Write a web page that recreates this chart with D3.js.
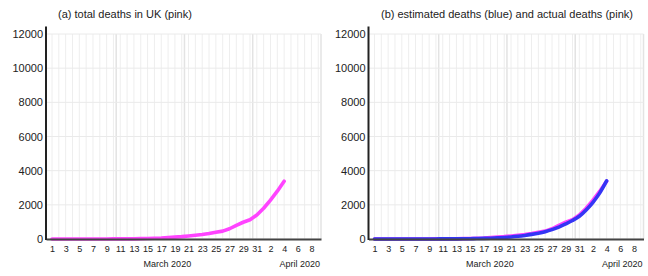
<!DOCTYPE html>
<html>
<head>
<meta charset="utf-8">
<script src="https://cdn.jsdelivr.net/npm/d3@7"></script>
<style>
  body { margin: 0; background: #fff; }
  text { font-family: Arial, "Liberation Sans", sans-serif; fill: #222; }
</style>
</head>
<body>
<svg></svg>
<script>
// day index 0 = 1 March 2020
let days = d3.range(0, 35)

// total deaths in UK (1 Mar .. 4 Apr)
let actualDeaths = [0, 0, 0, 0, 1, 1, 2, 2, 3, 5,
  6, 8, 10, 20, 30, 45, 60, 85, 110, 140,
  180, 220, 260, 320, 390, 460, 600, 800, 980, 1130,
  1400, 1800, 2280, 2800, 3380]

// estimated deaths (blue) in panel (b)
let estimatedDeaths = [0, 0, 1, 1, 1, 2, 2, 3, 3, 4,
  5, 7, 9, 13, 18, 25, 35, 48, 65, 90,
  120, 160, 210, 270, 340, 430, 550, 700, 880, 1080,
  1330, 1700, 2150, 2700, 3400]

let yTicks = [0, 2000, 4000, 6000, 8000, 10000, 12000]
let xTickDays = [0, 2, 4, 6, 8, 10, 12, 14, 16, 18, 20, 22, 24, 26, 28, 30, 32, 34, 36, 38]
let xTickLabels = ["1", "3", "5", "7", "9", "11", "13", "15", "17", "19", "21", "23", "25", "27", "29", "31", "2", "4", "6", "8"]

let width = 648
let height = 276
let panelWidth = 275

let svg = d3.select('svg').attr('width', width).attr('height', height)

let xScale = d3.scaleLinear().domain([-0.88, 39.4]).range([0, panelWidth])
let yScale = d3.scaleLinear().domain([0, 12000]).range([239, 34])

let drawPanel = (left, title, series) => {
  let g = svg.append('g').attr('transform', 'translate(' + left + ',0)')

  // minor vertical grid, one per day
  g.append('g').selectAll('line')
    .data(d3.range(0, 40))
    .join('line')
    .attr('x1', d => xScale(d)).attr('x2', d => xScale(d))
    .attr('y1', yScale(12000)).attr('y2', yScale(0))
    .attr('stroke', '#eeeeee').attr('stroke-width', 1)

  // heavier vertical grid every 10 days
  g.append('g').selectAll('line')
    .data(d3.range(9.4, 40, 10))
    .join('line')
    .attr('x1', d => xScale(d)).attr('x2', d => xScale(d))
    .attr('y1', yScale(12000)).attr('y2', yScale(0))
    .attr('stroke', '#e3e3e3').attr('stroke-width', 1.5)

  // horizontal grid
  g.append('g').selectAll('line')
    .data(yTicks)
    .join('line')
    .attr('x1', 0).attr('x2', panelWidth)
    .attr('y1', d => yScale(d)).attr('y2', d => yScale(d))
    .attr('stroke', '#eaeaea').attr('stroke-width', 1)

  // lines
  series.forEach(s => {
    let line = d3.line()
      .x((d, i) => xScale(days[i]))
      .y(d => yScale(d))
      .curve(s.curve)
    g.append('path')
      .datum(s.values)
      .attr('d', line)
      .attr('fill', 'none')
      .attr('stroke', s.color)
      .attr('stroke-width', 3.6)
      .attr('stroke-linejoin', 'round')
      .attr('stroke-linecap', 'round')
  })

  // x axis
  let xAxis = d3.axisBottom(xScale)
    .tickValues(xTickDays)
    .tickFormat((d, i) => xTickLabels[i])
    .tickSize(0)
    .tickPadding(7)
  let xg = g.append('g').attr('transform', 'translate(0,' + yScale(0) + ')').call(xAxis)
  xg.select('.domain').attr('stroke', '#444').attr('stroke-width', 2)
  xg.selectAll('text').style('font-size', '9px').attr('fill', '#222')

  g.append('text').attr('x', xScale(16.9)).attr('y', 266.5)
    .attr('text-anchor', 'middle').style('font-size', '9px').text('March 2020')
  g.append('text').attr('x', panelWidth - 1).attr('y', 266.5)
    .attr('text-anchor', 'end').style('font-size', '9px').text('April 2020')

  // y axis
  let yAxis = d3.axisLeft(yScale).tickValues(yTicks).tickFormat(d3.format('d')).tickSize(0).tickPadding(3)
  let yg = g.append('g').call(yAxis)
  yg.select('.domain').remove()
  yg.selectAll('text').style('font-size', '11px').attr('fill', '#222')
  g.append('line').attr('x1', 0).attr('x2', 0)
    .attr('y1', 26.5).attr('y2', yScale(0) + 1)
    .attr('stroke', '#222').attr('stroke-width', 2)

  // title
  g.append('text').attr('x', title.x).attr('y', 18)
    .style('font-size', '11px').text(title.text)
}

drawPanel(46, { text: '(a) total deaths in UK (pink)', x: 12 },
  [{ values: actualDeaths, color: '#ff44ff', curve: d3.curveLinear }])

drawPanel(368.5, { text: '(b) estimated deaths (blue) and actual deaths (pink)', x: 12.5 },
  [{ values: actualDeaths, color: '#ff44ff', curve: d3.curveLinear },
   { values: estimatedDeaths, color: '#3535f5', curve: d3.curveMonotoneX }])
</script>
</body>
</html>
